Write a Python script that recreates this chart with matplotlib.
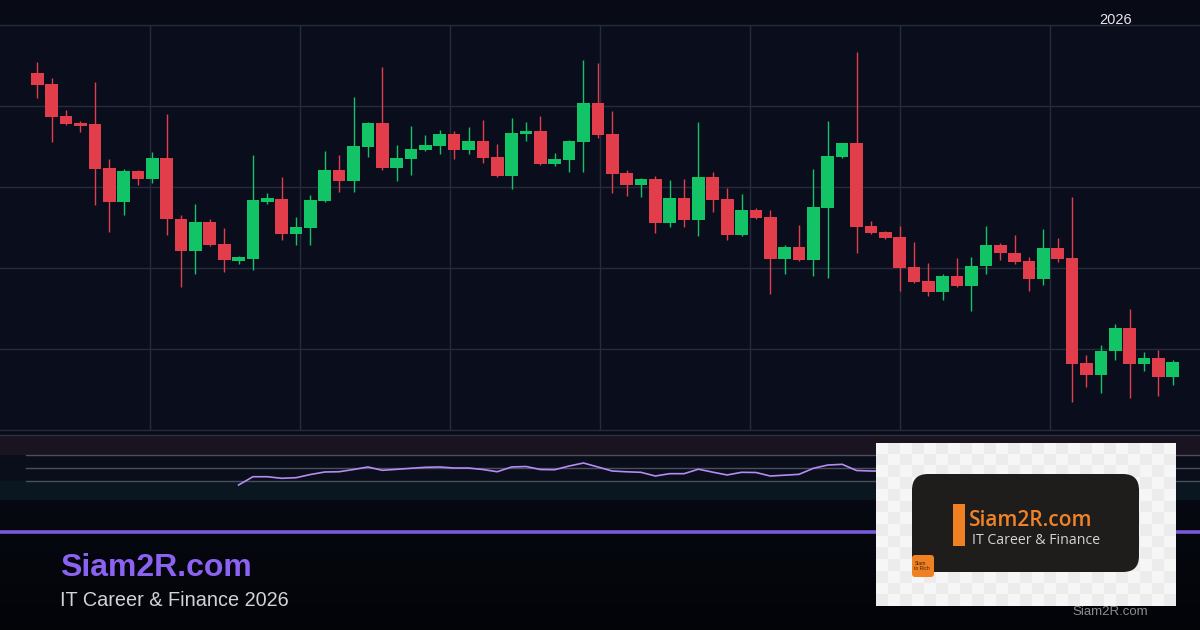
import numpy as np
import matplotlib.pyplot as plt
from matplotlib.patches import FancyBboxPatch, Rectangle
from matplotlib.lines import Line2D
from matplotlib.colors import LinearSegmentedColormap

plt.rcParams['font.family'] = ['Liberation Sans', 'DejaVu Sans']

# OHLC ดูจากภาพ (ค่าราคาสมมติ)
opens = [144.1, 142.7, 138.8, 137.9, 137.8, 132.3, 128.1, 132.0, 131.0, 133.6,
         126.0, 122.1, 125.7, 123.0, 120.9, 121.1, 128.2, 128.5, 124.2, 125.0,
         128.3, 132.1, 130.7, 135.0, 137.9, 132.3, 133.5, 134.6, 135.1, 136.5,
         134.6, 135.7, 133.7, 131.4, 136.5, 136.9, 132.8, 133.3, 135.6, 140.4,
         136.5, 131.7, 130.2, 131.0, 125.6, 128.6, 125.9, 131.2, 128.5, 124.1,
         127.2, 126.3, 121.1, 122.6, 121.0, 127.4, 133.7, 135.4, 125.2, 124.4,
         123.8, 120.1, 118.4, 117.0, 119.0, 117.8, 120.2, 122.8, 121.9, 120.9,
         118.7, 122.5, 121.2, 108.3, 106.8, 109.7, 112.6, 108.2, 108.9, 106.6]
highs = [145.4, 143.5, 139.5, 138.2, 143.0, 133.4, 132.2, 132.1, 134.3, 139.0,
         126.5, 127.9, 126.1, 124.9, 121.5, 134.0, 129.3, 131.2, 126.3, 129.0,
         134.4, 134.0, 141.1, 138.0, 144.8, 135.2, 137.5, 136.4, 137.0, 136.9,
         137.4, 138.3, 135.3, 138.5, 138.0, 138.8, 134.2, 135.8, 145.7, 145.3,
         139.4, 132.1, 131.1, 131.4, 130.9, 131.0, 138.0, 131.9, 129.9, 129.1,
         127.4, 127.2, 122.9, 125.3, 132.2, 138.1, 135.4, 146.7, 125.8, 124.6,
         125.2, 123.2, 120.6, 119.3, 121.2, 121.4, 125.2, 123.1, 124.1, 121.4,
         124.8, 123.7, 128.8, 109.3, 110.5, 113.1, 114.9, 109.6, 109.9, 108.6]
lows = [141.0, 135.5, 137.7, 136.8, 127.8, 124.5, 126.6, 130.2, 130.5, 124.1,
        117.6, 119.3, 122.7, 119.5, 120.5, 119.7, 127.9, 123.5, 122.9, 122.9,
        128.2, 129.4, 129.4, 133.7, 132.1, 130.7, 131.5, 134.5, 134.1, 133.5,
        134.1, 133.0, 131.2, 129.8, 135.7, 132.7, 132.6, 131.9, 131.9, 136.0,
        129.3, 128.9, 128.8, 124.3, 125.1, 125.1, 124.0, 126.9, 123.5, 124.0,
        126.1, 116.8, 119.3, 120.9, 119.0, 118.8, 133.6, 121.9, 124.2, 123.6,
        117.1, 118.1, 116.5, 116.0, 117.7, 114.7, 119.3, 121.0, 120.5, 117.1,
        117.9, 120.8, 103.4, 105.3, 104.6, 108.6, 103.9, 107.3, 104.2, 105.5]
closes = [142.6, 138.7, 137.8, 137.5, 132.2, 128.1, 132.0, 131.0, 133.6, 126.0,
          122.1, 125.7, 122.8, 121.0, 121.3, 128.4, 128.6, 124.2, 125.1, 128.4,
          132.1, 130.7, 135.1, 137.9, 132.3, 133.6, 134.7, 135.2, 136.5, 134.6,
          135.7, 133.6, 131.4, 136.7, 136.9, 132.8, 133.5, 135.7, 140.4, 136.4,
          131.6, 130.2, 131.0, 125.6, 128.6, 125.9, 131.2, 128.4, 124.1, 127.2,
          126.2, 121.1, 122.6, 121.0, 127.5, 133.8, 135.4, 125.1, 124.3, 123.7,
          120.0, 118.3, 117.0, 119.0, 117.8, 120.2, 122.8, 121.8, 120.8, 118.7,
          122.5, 121.1, 108.2, 106.8, 109.8, 112.6, 108.2, 108.9, 106.6, 108.4]

# RSI เริ่มที่แท่งที่ 14
rsi_start = 14
rsi_values = [23.1, 35.8, 35.8, 33.4, 34.3, 39.2, 43.1, 43.5, 46.9, 50.8,
              45.7, 47.2, 48.8, 50.3, 50.8, 49.2, 49.2, 46.9, 43.5, 50.8,
              51.5, 46.9, 46.6, 52.3, 56.9, 50.8, 44.6, 43.4, 42.6, 36.9,
              40.5, 40.5, 47.4, 42.8, 38.5, 42.6, 42.3, 36.9, 38.2, 39.5,
              48.8, 53.8, 54.9, 45.4, 44.6, 44.6]
rsi_levels = [30, 50, 70]

GREEN = '#12c466'
RED = '#e23d4b'
GRID = '#262b3c'
XLIM = (-2.6, 80.9)
W, H = 1200, 630

fig = plt.figure(figsize=(12, 6.3), dpi=100)
fig.patch.set_facecolor('#080b16')

# พื้นหลังไล่สี
bg = fig.add_axes([0, 0, 1, 1], zorder=-10)
cmap = LinearSegmentedColormap.from_list(
    'bg', [(0, '#030408'), (0.2, '#070912'), (0.32, '#0a0d19'), (1, '#080b16')])
bg.imshow(np.linspace(0, 1, 256)[:, None], aspect='auto', cmap=cmap,
          extent=[0, 1, 0, 1], origin='lower')
bg.axis('off')

# กราฟแท่งเทียน
ax = fig.add_axes([0, 200 / H, 1, 405 / H])
ax.set_facecolor('#0a0e1c')
o = np.array(opens); c = np.array(closes)
x = np.arange(len(opens))
cols = np.where(c >= o, GREEN, RED)
for yv in range(100, 151, 10):
    ax.axhline(yv, color=GRID, lw=1, zorder=0, clip_on=False)
for xv in np.linspace(XLIM[0], XLIM[1], 9)[1:-1]:
    ax.axvline(xv, color=GRID, lw=1, zorder=0)
ax.vlines(x, lows, highs, colors=cols, lw=1, zorder=2)
ax.bar(x, np.maximum(np.abs(c - o), 0.25), bottom=np.minimum(o, c),
       width=0.88, color=cols, lw=0, zorder=3)
ax.set_xlim(*XLIM)
ax.set_ylim(100, 150)
ax.set_xticks([]); ax.set_yticks([])
for s in ax.spines.values():
    s.set_visible(False)

fig.text(1116 / W, 1 - 20 / H, '2026', ha='center', va='center',
         color='#e6e6ea', fontsize=10.5)

# RSI
rax = fig.add_axes([0, 130 / H, 1, 65 / H])
rax.set_facecolor('#0a0d1a')
rax.axhspan(70, 100, color='#19141f', lw=0, zorder=0)
rax.axhspan(0, 30, color='#0b1720', lw=0, zorder=0)
for lv in rsi_levels:
    rax.axhline(lv, xmin=0.022, color='#4a4f5d', lw=1, zorder=1)
rax.axhline(100, color='#2c3142', lw=1, clip_on=False)
rx = np.arange(rsi_start, rsi_start + len(rsi_values))
rax.plot(rx, rsi_values, color='#b48cf2', lw=1.2, zorder=3)
rax.set_xlim(*XLIM)
rax.set_ylim(0, 100)
rax.set_xticks([]); rax.set_yticks([])
for s in rax.spines.values():
    s.set_visible(False)

# เส้นคั่นสีม่วง
fig.add_artist(Line2D([0, 1], [1 - 532 / H] * 2, transform=fig.transFigure,
                      color='#7a5bd8', lw=2.6, zorder=0.5))

fig.text(60 / W, 1 - 568 / H, 'Siam2R.com', fontsize=23, weight='bold',
         color='#8b62f2', va='center')
fig.text(60 / W, 1 - 600 / H, 'IT Career & Finance 2026', fontsize=14.3,
         color='#d2d2da', va='center')

# โลโก้มุมขวาล่าง
lax = fig.add_axes([876 / W, 24 / H, 300 / W, 163 / H])
lax.set_zorder(10)
lax.set_xlim(0, 300); lax.set_ylim(163, 0)
lax.axis('off')
iy, ix = np.indices((14, 25))
checker = ((iy + ix) % 2).astype(float)
lax.imshow(checker, cmap=LinearSegmentedColormap.from_list('ck', ['#f6f6f6', '#ececec']),
           extent=(0, 300, 163, 0), aspect='auto', interpolation='nearest')
lax.add_patch(FancyBboxPatch((36, 31), 227, 98, boxstyle='round,pad=0,rounding_size=16',
                             fc='#1f1d1c', ec='none'))
lax.add_patch(Rectangle((77, 61), 12, 42, fc='#f08122', ec='none'))
lax.text(93, 78, 'Siam2R.com', color='#f0832a', fontsize=15, va='center',
         family='Open Sans', weight='semibold')
lax.text(96, 98, 'IT Career & Finance', color='#d4d4d4', fontsize=10.2, va='center',
         family='Open Sans')
lax.add_patch(FancyBboxPatch((36, 112), 22, 22, boxstyle='round,pad=0,rounding_size=3',
                             fc='#f08122', ec='none'))
lax.text(38.5, 123, 'Siam\nto Rich', fontsize=3.6, color='#3a2412', va='center',
         linespacing=1.0)

t = fig.text(1110 / W, 1 - 612 / H, 'Siam2R.com', fontsize=9.5, color='#8c8c8c',
             ha='center', va='center')
t.set_zorder(20)

fig.savefig('out.png', dpi=100, facecolor=fig.get_facecolor())
